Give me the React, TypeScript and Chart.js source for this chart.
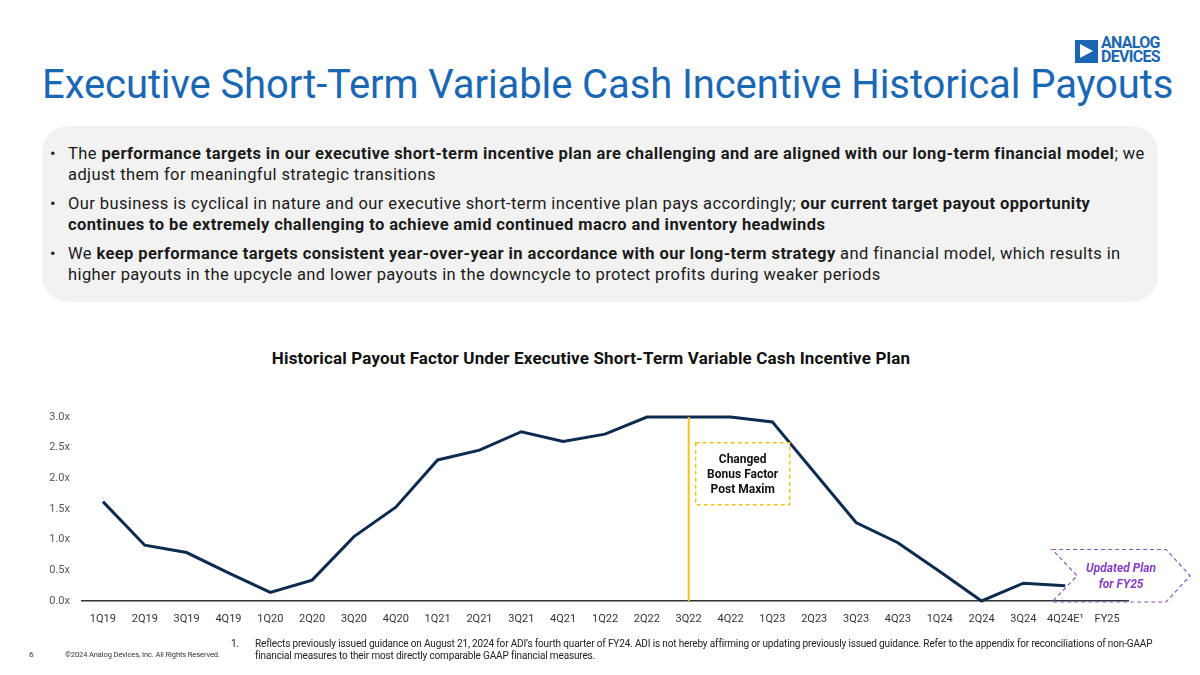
import React, { useEffect, useRef } from "react";
import { Chart, registerables } from "chart.js";

Chart.register(...registerables);

const categories = [
  "1Q19", "2Q19", "3Q19", "4Q19",
  "1Q20", "2Q20", "3Q20", "4Q20",
  "1Q21", "2Q21", "3Q21", "4Q21",
  "1Q22", "2Q22", "3Q22", "4Q22",
  "1Q23", "2Q23", "3Q23", "4Q23",
  "1Q24", "2Q24", "3Q24", "4Q24E¹", "FY25",
];

const payoutFactor: (number | null)[] = [
  1.62, 0.91, 0.79, 0.46,
  0.14, 0.34, 1.05, 1.53,
  2.3, 2.46, 2.76, 2.6,
  2.72, 3.0, 3.0, 3.0,
  2.92, 2.1, 1.28, 0.95,
  0.48, 0.0, 0.29, 0.25, null,
];

const yMin = 0;
const yMax = 3;
const yStep = 0.5;

const markerCategory = "3Q22";
const markerNote = ["Changed", "Bonus Factor", "Post Maxim"];
const planCategory = "FY25";
const planNote = ["Updated Plan", "for FY25"];

const chartTitle =
  "Historical Payout Factor Under Executive Short-Term Variable Cash Incentive Plan";

const FONT = "Roboto, 'Noto Sans', sans-serif";

const annotationPlugin = {
  id: "annotations",
  afterDatasetsDraw(chart: any) {
    const { ctx, chartArea, scales } = chart;
    const xs = scales.x;
    const ys = scales.y;
    const xi = categories.indexOf(markerCategory);
    const xLine = xs.getPixelForValue(xi);

    ctx.save();
    // yellow vertical marker
    ctx.strokeStyle = "#f2c31b";
    ctx.lineWidth = 2;
    ctx.beginPath();
    ctx.moveTo(xLine, chartArea.top);
    ctx.lineTo(xLine, chartArea.bottom);
    ctx.stroke();

    // dashed annotation box
    const bx = xLine + 7;
    const bw = 94;
    const by = ys.getPixelForValue(2.58);
    const bh = 62;
    ctx.fillStyle = "#ffffff";
    ctx.fillRect(bx, by, bw, bh);
    ctx.setLineDash([4, 3]);
    ctx.strokeStyle = "#f2c31b";
    ctx.lineWidth = 1.5;
    ctx.strokeRect(bx, by, bw, bh);
    ctx.setLineDash([]);
    ctx.fillStyle = "#111111";
    ctx.font = `bold 12px ${FONT}`;
    ctx.textAlign = "center";
    ctx.textBaseline = "middle";
    markerNote.forEach((t, i) => {
      ctx.fillText(t, bx + bw / 2, by + 17 + i * 15);
    });

    // purple chevron
    const pi = categories.indexOf(planCategory);
    const px = xs.getPixelForValue(pi);
    const left = px - 55;
    const right = px + 59;
    const tip = px + 83;
    const top = ys.getPixelForValue(0.84);
    const bottom = ys.getPixelForValue(0) + 1;
    const mid = (top + bottom) / 2;
    ctx.setLineDash([4, 3]);
    ctx.strokeStyle = "#8a55c0";
    ctx.lineWidth = 1.2;
    ctx.beginPath();
    ctx.moveTo(left, top);
    ctx.lineTo(right, top);
    ctx.lineTo(tip, mid);
    ctx.lineTo(right, bottom);
    ctx.lineTo(left, bottom);
    ctx.lineTo(left + 25, mid);
    ctx.closePath();
    ctx.stroke();
    ctx.setLineDash([]);
    ctx.fillStyle = "#8a3fc2";
    ctx.font = `italic bold 12px ${FONT}`;
    planNote.forEach((t, i) => {
      ctx.fillText(t, px + 14, mid - 7 + i * 16);
    });
    ctx.restore();
  },
};

function PayoutChart() {
  const ref = useRef<HTMLCanvasElement | null>(null);
  useEffect(() => {
    if (!ref.current) return;
    const chart = new Chart(ref.current, {
      type: "line",
      data: {
        labels: categories,
        datasets: [
          {
            data: payoutFactor,
            borderColor: "#0d2a4f",
            borderWidth: 3,
            pointRadius: 0,
            tension: 0,
            clip: false as any,
            spanGaps: false,
          },
        ],
      },
      options: {
        animation: false,
        responsive: true,
        maintainAspectRatio: false,
        layout: { padding: { top: 27, right: 72, left: 0, bottom: 0 } },
        plugins: {
          legend: { display: false },
          tooltip: { enabled: false },
          title: { display: false },
        },
        scales: {
          x: {
            offset: true,
            grid: { display: false, drawTicks: false },
            border: { display: true, color: "#333333", width: 1.5 },
            ticks: {
              color: "#333333",
              font: { family: FONT, size: 11 },
              padding: 12,
              maxRotation: 0,
              autoSkip: false,
            },
            afterFit: (s: any) => {
              s.height = 39;
            },
          },
          y: {
            min: yMin,
            max: yMax,
            grid: { display: false, drawTicks: false },
            border: { display: false },
            ticks: {
              stepSize: yStep,
              color: "#555555",
              font: { family: FONT, size: 11 },
              padding: 12,
              callback: (v: any) => `${Number(v).toFixed(1)}x`,
            },
            afterFit: (s: any) => {
              s.width = 82;
            },
          },
        },
      },
      plugins: [annotationPlugin],
    });
    return () => chart.destroy();
  }, []);
  return <canvas ref={ref} />;
}

const B = ({ children }: { children: React.ReactNode }) => (
  <span style={{ fontWeight: 700 }}>{children}</span>
);

export default function App() {
  const lineStyle: React.CSSProperties = {
    whiteSpace: "nowrap",
    height: 21,
    lineHeight: "21px",
  };
  const bulletStyle: React.CSSProperties = {
    position: "relative",
    paddingLeft: 18,
    marginBottom: 8,
  };
  const dot = (
    <span style={{ position: "absolute", left: 0, top: 0, lineHeight: "21px", letterSpacing: 0 }}>•</span>
  );
  return (
    <div
      style={{
        position: "absolute",
        left: 0,
        top: 0,
        width: 1200,
        height: 675,
        background: "#ffffff",
        fontFamily: FONT,
        overflow: "hidden",
      }}
    >
      {/* Logo */}
      <div style={{ position: "absolute", left: 1075, top: 40, width: 23, height: 23, background: "#1a66b3" }}>
        <div
          style={{
            position: "absolute",
            left: 5,
            top: 4,
            width: 0,
            height: 0,
            borderTop: "7.5px solid transparent",
            borderBottom: "7.5px solid transparent",
            borderLeft: "13px solid #ffffff",
          }}
        />
      </div>
      <div
        style={{
          position: "absolute",
          left: 1101,
          top: 36,
          color: "#1a66b3",
          fontWeight: 700,
          fontSize: 16,
          lineHeight: "13.5px",
          letterSpacing: -0.7,
        }}
      >
        <div>ANALOG</div>
        <div>DEVICES</div>
      </div>

      {/* Title */}
      <div
        style={{
          position: "absolute",
          left: 42,
          top: 61,
          fontSize: 40,
          lineHeight: "48px",
          color: "#1a67b4",
          whiteSpace: "nowrap",
          letterSpacing: -0.1,
        }}
      >
        Executive Short-Term Variable Cash Incentive Historical Payouts
      </div>

      {/* Bullet box */}
      <div
        style={{
          position: "absolute",
          left: 42,
          top: 126,
          width: 1116,
          height: 176,
          background: "#f2f2f2",
          borderRadius: 26,
        }}
      />
      <div
        style={{
          position: "absolute",
          left: 50,
          top: 143,
          fontSize: 16.5,
          letterSpacing: 0.4,
          color: "#1a1a1a",
        }}
      >
        <div style={bulletStyle}>
          {dot}
          <div style={lineStyle}>
            The <B>performance targets in our executive short-term incentive plan are challenging and are aligned with our long-term financial model</B>; we
          </div>
          <div style={lineStyle}>adjust them for meaningful strategic transitions</div>
        </div>
        <div style={bulletStyle}>
          {dot}
          <div style={lineStyle}>
            Our business is cyclical in nature and our executive short-term incentive plan pays accordingly; <B>our current target payout opportunity</B>
          </div>
          <div style={lineStyle}>
            <B>continues to be extremely challenging to achieve amid continued macro and inventory headwinds</B>
          </div>
        </div>
        <div style={bulletStyle}>
          {dot}
          <div style={lineStyle}>
            We <B>keep performance targets consistent year-over-year in accordance with our long-term strategy</B> and financial model, which results in
          </div>
          <div style={lineStyle}>
            higher payouts in the upcycle and lower payouts in the downcycle to protect profits during weaker periods
          </div>
        </div>
      </div>

      {/* Chart title */}
      <div
        style={{
          position: "absolute",
          left: 0,
          width: 1182,
          top: 348,
          textAlign: "center",
          fontSize: 17,
          letterSpacing: 0.15,
          fontWeight: 700,
          color: "#111111",
          whiteSpace: "nowrap",
        }}
      >
        {chartTitle}
      </div>

      {/* Chart */}
      <div style={{ position: "absolute", left: 0, top: 390, width: 1200, height: 250 }}>
        <PayoutChart />
      </div>

      {/* Footer */}
      <div style={{ position: "absolute", left: 29, top: 650, fontSize: 8, color: "#333" }}>6</div>
      <div
        style={{
          position: "absolute",
          left: 65,
          top: 650,
          fontSize: 7.5,
          letterSpacing: -0.1,
          color: "#333",
          whiteSpace: "nowrap",
        }}
      >
        ©2024 Analog Devices, Inc. All Rights Reserved.
      </div>
      <div style={{ position: "absolute", left: 231, top: 638, fontSize: 10, color: "#222", lineHeight: "12px" }}>1.</div>
      <div
        style={{
          position: "absolute",
          left: 255,
          top: 638,
          fontSize: 10,
          letterSpacing: -0.15,
          color: "#222",
          lineHeight: "12px",
          whiteSpace: "nowrap",
        }}
      >
        <div>
          Reflects previously issued guidance on August 21, 2024 for ADI’s fourth quarter of FY24. ADI is not hereby affirming or updating previously issued guidance. Refer to the appendix for reconciliations of non-GAAP
        </div>
        <div>financial measures to their most directly comparable GAAP financial measures.</div>
      </div>
    </div>
  );
}
